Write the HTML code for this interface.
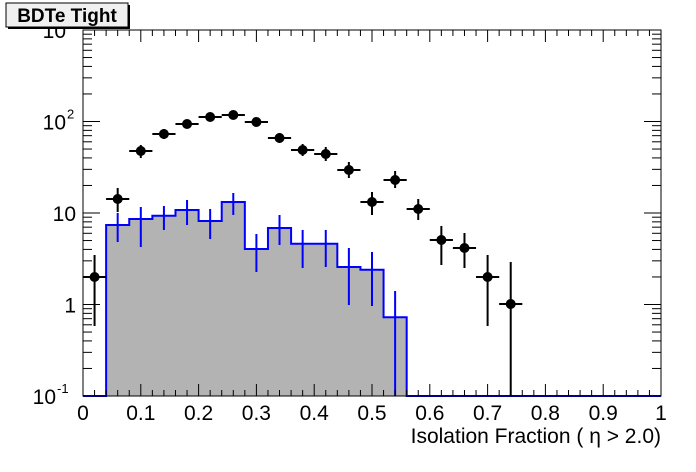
<!DOCTYPE html>
<html><head><meta charset="utf-8"><style>
body{margin:0;background:#fff;}
svg{display:block;font-family:"Liberation Sans",Arial,sans-serif;}
</style></head><body>
<svg id="s" width="696" height="472" xmlns="http://www.w3.org/2000/svg"></svg>
<script>
const s=document.getElementById('s');
const L=83,R=661,T=30,B=396;
const X=v=>L+578*v, Y=v=>B-91.5*(Math.log10(v)+1);
let h='';
const edges=[0.04,0.08,0.12,0.16,0.20,0.24,0.28,0.32,0.36,0.44,0.48,0.52,0.56];
const yb=[225,219,215.7,210,221,202,249,228,243.7,267,269.7,317.3];
let p=`M${L},${B} L${X(0.04)},${B}`;
for(let i=0;i<yb.length;i++){p+=` L${X(edges[i])},${yb[i]} L${X(edges[i+1])},${yb[i]}`;}
p+=` L${X(0.56)},${B}`;
h+=`<path d="${p} Z" fill="#b3b3b3" stroke="none"/>`;
h+=`<path d="${p} L${R},${B}" fill="none" stroke="#0000ff" stroke-width="2"/>`;
const be=[[0.06,213,242],[0.10,207,247],[0.14,206,230],[0.18,200,225],[0.22,209,239],[0.26,193,215],[0.30,234,272],[0.34,215,245],[0.38,230,268],[0.42,230,267],[0.46,248,305],[0.50,252,306],[0.54,291,396]];
be.forEach(e=>h+=`<line x1="${X(e[0])}" x2="${X(e[0])}" y1="${e[1]}" y2="${e[2]}" stroke="#0000ff" stroke-width="2"/>`);
h+=`<rect x="${L}" y="${T}" width="${R-L}" height="${B-T}" fill="none" stroke="#000" stroke-width="1"/>`;
for(let i=0;i<=50;i++){const x=X(i/50);const len=i%5==0?12:6;
h+=`<line x1="${x}" x2="${x}" y1="${B}" y2="${B-len}" stroke="#000"/><line x1="${x}" x2="${x}" y1="${T}" y2="${T+len}" stroke="#000"/>`;}
for(let i=0;i<=10;i++){const lab=i==0?'0':i==10?'1':(i/10).toFixed(1);
h+=`<text x="${X(i/10)}" y="${B+24}" font-size="21" text-anchor="middle">${lab}</text>`;}
for(let d=-1;d<3;d++)for(let m=1;m<10;m++){const v=m*Math.pow(10,d);const y=Y(v);const len=m==1?17:9;
h+=`<line x1="${L}" x2="${L+len}" y1="${y}" y2="${y}" stroke="#000"/><line x1="${R}" x2="${R-len}" y1="${y}" y2="${y}" stroke="#000"/>`;}
h+=`<text x="56" y="${B+8}" font-size="21" text-anchor="end">10</text><text x="57" y="${B-3}" font-size="13">-1</text>`;
h+=`<text x="76" y="${Y(1)+8}" font-size="21" text-anchor="end">1</text>`;
h+=`<text x="76" y="${Y(10)+8}" font-size="21" text-anchor="end">10</text>`;
h+=`<text x="66" y="${Y(100)+8}" font-size="21" text-anchor="end">10</text><text x="67" y="${Y(100)-3}" font-size="13">2</text>`;
h+=`<text x="66" y="${T+8}" font-size="21" text-anchor="end">10</text>`;
const pts=[[0.02,277,255,326],[0.06,199,188,212],[0.10,151,145,158],[0.14,134,129,139],[0.18,124,120,128],[0.22,117,113,121],[0.26,115,111,119],[0.30,122,118,126],[0.34,138,133,143],[0.38,150,144,156],[0.42,154,147,161],[0.46,170,162,178],[0.50,202,192,215],[0.54,180,171,188],[0.58,209,199,220],[0.62,240,226,265],[0.66,248,233,268],[0.70,277,255,326],[0.74,304,262,396]];
pts.forEach(q=>{const x=X(q[0]);
h+=`<line x1="${x-11.6}" x2="${x+11.6}" y1="${q[1]}" y2="${q[1]}" stroke="#000" stroke-width="2"/><line x1="${x}" x2="${x}" y1="${q[2]}" y2="${q[3]}" stroke="#000" stroke-width="2"/><circle cx="${x}" cy="${q[1]}" r="5" fill="#000"/>`;});
h+=`<rect x="8" y="5" width="122" height="24" fill="#000"/><rect x="6" y="3" width="122" height="24" fill="#f0f0f0" stroke="#000"/>`;
h+=`<text x="67" y="22" font-size="19" font-weight="bold" text-anchor="middle">BDTe Tight</text>`;
h+=`<text x="${R}" y="443" font-size="21" text-anchor="end">Isolation Fraction (  η &gt; 2.0)</text>`;
s.innerHTML=h;
</script>
</body></html>
